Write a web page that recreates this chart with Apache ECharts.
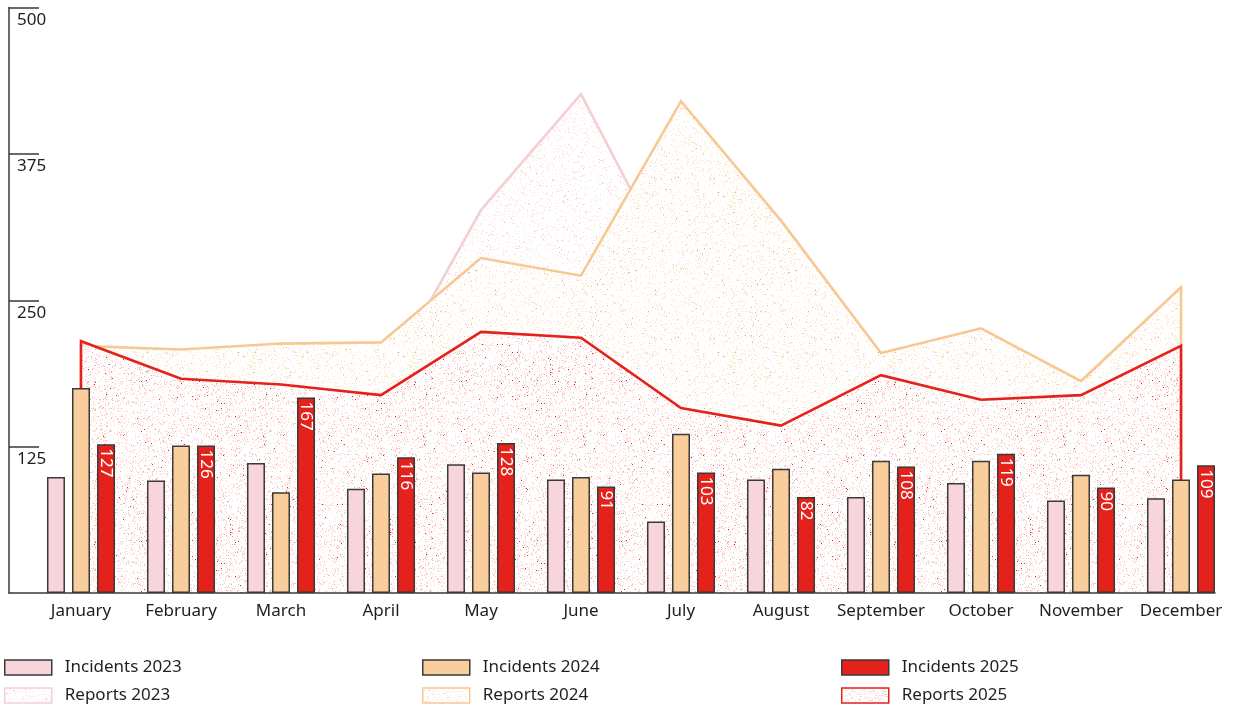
<!DOCTYPE html>
<html>
<head>
<meta charset="utf-8">
<script src="https://cdn.jsdelivr.net/npm/echarts@6/dist/echarts.min.js"></script>
<style>
  html, body { margin: 0; padding: 0; background: #ffffff; }
  #chart { width: 1235px; height: 705px; }
</style>
</head>
<body>
<div id="chart"></div>
<script>
// Months along the x axis
const months = ['January', 'February', 'March', 'April', 'May', 'June',
  'July', 'August', 'September', 'October', 'November', 'December'];

// Monthly incident counts (bars)
const incidents2023 = [99, 96, 111, 89, 110, 97, 61, 97, 82, 94, 79, 81];
const incidents2024 = [175, 126, 86, 102, 103, 99, 136, 106, 113, 113, 101, 97];
const incidents2025 = [127, 126, 167, 116, 128, 91, 103, 82, 108, 119, 90, 109];

// Monthly report counts (stippled areas)
const reports2023 = [195, 170, 185, 174, 327, 426, 262, 240, 170, 190, 160, 200];
const reports2024 = [211, 208, 213, 214, 286, 271, 420, 318, 205, 226, 181, 261];
const reports2025 = [215, 183, 178, 169, 223, 218, 158, 143, 186, 165, 169, 211];

// Y axis tick values
const yTicks = [0, 125, 250, 375, 500];

const FONT = 'Noto Sans';
const TEXT = '#1f1f1f';
const EDGE = '#3a3a3a';

const PINK = '#f8d5da', PINK_LINE = '#f6cfd4';
const ORANGE = '#f9cd9c', ORANGE_LINE = '#f8c893';
const RED = '#e5211b', RED_LINE = '#e5211b';

// Stippled texture tile: white ground with scattered dots (deterministic hash)
function stipple(dots, seed) {
  const size = 160;
  const c = document.createElement('canvas');
  c.width = size; c.height = size;
  const ctx = c.getContext('2d');
  ctx.fillStyle = '#ffffff';
  ctx.fillRect(0, 0, size, size);
  let s = seed >>> 0;
  const next = () => { s = (Math.imul(s, 1664525) + 1013904223) >>> 0; return s / 4294967296; };
  for (let y = 0; y < size; y++) {
    for (let x = 0; x < size; x++) {
      let r = next();
      for (const [color, rate] of dots) {
        if (r < rate) { ctx.fillStyle = color; ctx.fillRect(x, y, 1, 1); break; }
        r -= rate;
      }
    }
  }
  return { image: c, repeat: 'repeat' };
}

const tex2023 = stipple([['#f3b9c1', 0.005], ['#fbe3e6', 0.10]], 11);
const tex2024 = stipple([['#f6b070', 0.006], ['#fde6cf', 0.12]], 23);
const tex2025 = stipple([['#e5211b', 0.004], ['#f4a5a5', 0.022], ['#fad3d2', 0.12]], 37);

const pairs = arr => arr.map((v, i) => [i, v]);

// Filled polygon with an outline that rises from the axis at the first month
// and drops back to it at the last month
function areaSeries(name, values, texture, lineColor, z) {
  return {
    name: name,
    type: 'custom',
    z: z,
    data: pairs(values),
    encode: { x: 0, y: 1 },
    itemStyle: { color: lineColor },
    renderItem: function (params, api) {
      if (params.dataIndexInside !== 0) return null;
      const n = values.length;
      const top = [];
      for (let i = 0; i < n; i++) {
        top.push(api.coord([api.value(0, i), api.value(1, i)]));
      }
      const b0 = api.coord([api.value(0, 0), 0]);
      const b1 = api.coord([api.value(0, n - 1), 0]);
      const outline = [b0].concat(top, [b1]);
      return {
        type: 'group',
        children: [
          { type: 'polygon', shape: { points: outline }, style: { fill: texture, stroke: null } },
          { type: 'polyline', shape: { points: outline },
            style: { fill: null, stroke: lineColor, lineWidth: 2.6, lineJoin: 'miter' } }
        ]
      };
    }
  };
}

function barSeries(name, values, color, withLabel) {
  const s = {
    name: name,
    type: 'bar',
    z: 5,
    barWidth: 18,
    barGap: '39%',
    data: pairs(values),
    itemStyle: { color: color, borderColor: EDGE, borderWidth: 1.5 }
  };
  if (withLabel) {
    s.label = {
      show: true,
      position: 'insideTop',
      distance: 4,
      rotate: -90,
      align: 'left',
      verticalAlign: 'middle',
      color: '#ffffff',
      fontFamily: FONT,
      fontSize: 17,
      formatter: p => String(p.value[1])
    };
  }
  return s;
}

const chart = echarts.init(document.getElementById('chart'), null, { renderer: 'canvas' });

const legendText = { color: TEXT, fontFamily: FONT, fontSize: 17, padding: [0, 0, 0, 8] };
function legendBlock(left, items) {
  return {
    left: left, top: 659, orient: 'vertical',
    padding: 0,
    itemWidth: 47, itemHeight: 15, itemGap: 11,
    icon: 'rect',
    selectedMode: false,
    textStyle: legendText,
    data: items
  };
}

chart.setOption({
  animation: false,
  backgroundColor: '#ffffff',
  grid: { left: 9, right: 20, top: 7.5, bottom: 112, containLabel: false },
  legend: [
    legendBlock(4, [
      { name: 'Incidents 2023', itemStyle: { color: PINK, borderColor: EDGE, borderWidth: 1.5 } },
      { name: 'Reports 2023', itemStyle: { color: tex2023, borderColor: PINK_LINE, borderWidth: 1.5 } }
    ]),
    legendBlock(422, [
      { name: 'Incidents 2024', itemStyle: { color: ORANGE, borderColor: EDGE, borderWidth: 1.5 } },
      { name: 'Reports 2024', itemStyle: { color: tex2024, borderColor: ORANGE_LINE, borderWidth: 1.5 } }
    ]),
    legendBlock(841, [
      { name: 'Incidents 2025', itemStyle: { color: RED, borderColor: EDGE, borderWidth: 1.5 } },
      { name: 'Reports 2025', itemStyle: { color: tex2025, borderColor: RED_LINE, borderWidth: 1.5 } }
    ])
  ],
  xAxis: {
    type: 'value',
    min: -0.72,
    max: 11.34,
    z: 10,
    splitLine: { show: false },
    axisTick: { show: false },
    axisLine: { show: true, onZero: false, lineStyle: { color: EDGE, width: 1.5 } },
    axisLabel: {
      customValues: months.map((m, i) => i),
      formatter: v => months[Math.round(v)],
      color: TEXT, fontFamily: FONT, fontSize: 17, margin: 10
    }
  },
  yAxis: {
    type: 'value',
    min: 0,
    max: 500,
    interval: 125,
    z: 10,
    splitLine: { show: false },
    axisLine: { show: true, onZero: false, lineStyle: { color: EDGE, width: 1.5 } },
    axisTick: {
      show: true, inside: true, length: 30,
      customValues: yTicks.slice(1),
      lineStyle: { color: EDGE, width: 1.5 }
    },
    axisLabel: {
      inside: true, margin: 8,
      customValues: yTicks.slice(1),
      verticalAlign: 'top',
      padding: [4, 0, 0, 0],
      color: TEXT, fontFamily: FONT, fontSize: 17
    }
  },
  series: [
    areaSeries('Reports 2023', reports2023, tex2023, PINK_LINE, 1),
    areaSeries('Reports 2024', reports2024, tex2024, ORANGE_LINE, 2),
    areaSeries('Reports 2025', reports2025, tex2025, RED_LINE, 3),
    barSeries('Incidents 2023', incidents2023, PINK, false),
    barSeries('Incidents 2024', incidents2024, ORANGE, false),
    barSeries('Incidents 2025', incidents2025, RED, true)
  ]
});
</script>
</body>
</html>
